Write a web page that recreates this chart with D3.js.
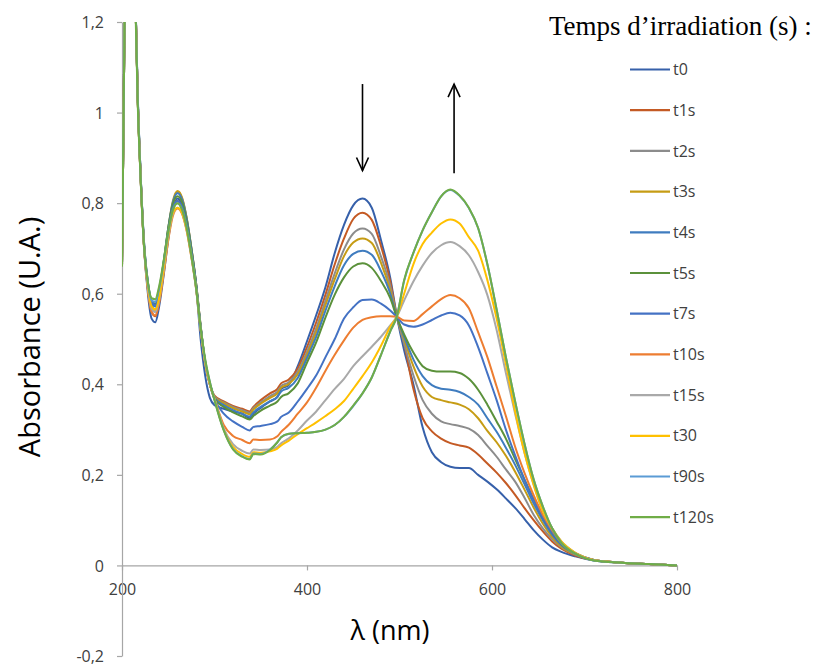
<!DOCTYPE html>
<html><head><meta charset="utf-8">
<script src="https://cdn.jsdelivr.net/npm/d3@7"></script>
<style>
html,body{margin:0;padding:0;background:#fff;}
svg{display:block;}
.ax text{font-family:"Open Sans","Noto Sans",sans-serif;font-size:16px;fill:#404040;}
.ax path,.ax line{stroke:#A6A6A6;stroke-width:1.2;}
</style></head><body>
<svg id="chart" width="820" height="666"></svg>
<script>
const wavelengths = [200,203,206,210,214,217,220,224,228,232,236,240,245,250,255,260,265,270,275,280,285,290,295,300,310,320,330,338,342,350,360,368,372,380,390,400,410,420,430,440,450,460,470,480,490,497,505,515,525,535,545,555,565,575,585,595,605,615,625,635,645,655,665,675,690,710,740,770,800];

const seriesNames = ["t0","t1s","t2s","t3s","t4s","t5s","t7s","t10s","t15s","t30","t90s","t120s"];
const seriesColors = ["#3660AA","#C45A24","#8C8C8C","#C69C14","#3F7CBF","#5B913B","#4472C4","#ED7D31","#A9A9A9","#FFC000","#5B9BD5","#70AD47"];

const t0 = [0.66,1.25,1.6,1.7,1.3,1.04,0.87,0.70,0.60,0.545,0.537,0.57,0.64,0.72,0.785,0.81,0.795,0.755,0.695,0.62,0.50,0.418,0.37,0.354,
 0.346,0.34,0.335,0.325,0.335,0.348,0.362,0.372,0.39,0.398,
 0.44,0.495,0.553,0.615,0.69,0.752,0.795,0.81,0.79,0.718,0.635,0.552,
 0.475,0.40,0.305,0.25,0.228,0.218,0.215,0.215,0.2,0.185,0.168,0.148,0.127,0.103,0.078,0.057,0.04,0.03,0.02,0.011,0.006,0.003,0.0];
const t1s = [0.66,1.25,1.6,1.7,1.3,1.03,0.865,0.70,0.61,0.56,0.55,0.58,0.648,0.725,0.785,0.805,0.79,0.752,0.692,0.62,0.525,0.445,0.40,0.375,
 0.362,0.352,0.346,0.34,0.35,0.365,0.38,0.39,0.402,0.41,
 0.435,0.482,0.537,0.598,0.665,0.722,0.765,0.779,0.763,0.705,0.627,0.551,
 0.49,0.39,0.325,0.296,0.28,0.27,0.265,0.26,0.245,0.225,0.205,0.182,0.156,0.127,0.1,0.075,0.053,0.037,0.022,0.012,0.006,0.003,0.0];
const t2s = [0.66,1.25,1.6,1.7,1.3,1.03,0.865,0.70,0.615,0.57,0.56,0.59,0.66,0.74,0.80,0.825,0.81,0.765,0.70,0.625,0.53,0.448,0.40,0.373,
 0.36,0.35,0.343,0.337,0.347,0.36,0.374,0.384,0.396,0.404,
 0.428,0.472,0.524,0.585,0.645,0.698,0.733,0.744,0.732,0.682,0.617,0.55,
 0.49,0.42,0.365,0.335,0.318,0.312,0.308,0.302,0.288,0.264,0.24,0.212,0.185,0.15,0.112,0.082,0.058,0.04,0.024,0.012,0.006,0.003,0.0];
const t3s = [0.66,1.25,1.6,1.7,1.3,1.03,0.865,0.70,0.618,0.575,0.565,0.595,0.665,0.745,0.805,0.827,0.812,0.767,0.702,0.625,0.53,0.448,0.40,0.372,
 0.358,0.347,0.34,0.334,0.344,0.357,0.37,0.38,0.392,0.40,
 0.422,0.465,0.515,0.575,0.632,0.683,0.713,0.722,0.712,0.668,0.607,0.55,
 0.50,0.44,0.395,0.372,0.365,0.36,0.355,0.345,0.325,0.297,0.272,0.242,0.207,0.168,0.128,0.092,0.063,0.042,0.025,0.012,0.006,0.003,0.0];
const t4s = [0.66,1.25,1.6,1.7,1.3,1.035,0.868,0.705,0.622,0.58,0.572,0.60,0.668,0.745,0.802,0.822,0.808,0.765,0.70,0.624,0.528,0.447,0.40,0.37,
 0.354,0.343,0.335,0.329,0.338,0.35,0.363,0.372,0.384,0.392,
 0.414,0.458,0.505,0.563,0.617,0.663,0.688,0.695,0.686,0.65,0.60,0.549,
 0.505,0.455,0.418,0.398,0.39,0.388,0.383,0.372,0.355,0.325,0.295,0.26,0.222,0.18,0.137,0.10,0.068,0.045,0.026,0.012,0.006,0.003,0.0];
const t5s = [0.66,1.25,1.6,1.7,1.3,1.035,0.87,0.708,0.625,0.585,0.578,0.605,0.67,0.745,0.798,0.815,0.802,0.76,0.698,0.622,0.527,0.446,0.40,0.368,
 0.35,0.338,0.329,0.322,0.33,0.342,0.353,0.362,0.372,0.38,
 0.402,0.448,0.493,0.548,0.598,0.636,0.66,0.667,0.657,0.628,0.59,0.549,
 0.51,0.47,0.44,0.43,0.428,0.428,0.425,0.412,0.388,0.355,0.318,0.28,0.235,0.19,0.147,0.105,0.073,0.048,0.027,0.012,0.006,0.003,0.0];
const t7s = [0.66,1.25,1.6,1.7,1.3,1.035,0.87,0.708,0.625,0.583,0.575,0.60,0.665,0.738,0.79,0.805,0.792,0.752,0.692,0.62,0.527,0.448,0.40,0.368,
 0.335,0.318,0.306,0.298,0.306,0.308,0.312,0.318,0.328,0.337,
 0.362,0.39,0.42,0.46,0.50,0.545,0.57,0.586,0.587,0.578,0.563,0.549,
 0.532,0.527,0.532,0.542,0.552,0.558,0.552,0.53,0.482,0.424,0.365,0.30,0.243,0.19,0.145,0.105,0.073,0.048,0.027,0.012,0.006,0.003,0.0];
const t10s = [0.66,1.25,1.6,1.7,1.3,1.03,0.862,0.695,0.608,0.56,0.552,0.578,0.643,0.718,0.772,0.788,0.776,0.738,0.68,0.612,0.52,0.445,0.40,0.368,
 0.31,0.286,0.277,0.27,0.278,0.277,0.278,0.285,0.295,0.31,
 0.335,0.36,0.393,0.43,0.465,0.497,0.525,0.542,0.548,0.55,0.55,0.549,
 0.541,0.54,0.555,0.572,0.588,0.597,0.59,0.568,0.515,0.46,0.395,0.33,0.262,0.205,0.155,0.112,0.078,0.05,0.028,0.012,0.006,0.003,0.0];
const t15s = [0.66,1.25,1.6,1.7,1.3,1.03,0.862,0.697,0.612,0.567,0.56,0.585,0.65,0.724,0.776,0.79,0.778,0.74,0.682,0.613,0.522,0.447,0.40,0.368,
 0.302,0.268,0.253,0.247,0.256,0.255,0.256,0.262,0.27,0.28,
 0.298,0.32,0.34,0.365,0.39,0.412,0.44,0.462,0.483,0.505,0.53,0.549,
 0.585,0.627,0.662,0.69,0.707,0.714,0.705,0.685,0.648,0.597,0.52,0.425,0.335,0.25,0.178,0.12,0.082,0.053,0.028,0.012,0.006,0.003,0.0];
const t30 = [0.66,1.25,1.6,1.7,1.3,1.03,0.863,0.70,0.615,0.572,0.565,0.59,0.655,0.728,0.778,0.79,0.778,0.74,0.683,0.614,0.523,0.448,0.40,0.368,
 0.30,0.262,0.246,0.24,0.25,0.249,0.252,0.258,0.265,0.275,
 0.29,0.303,0.316,0.33,0.345,0.363,0.39,0.418,0.448,0.485,0.527,0.549,
 0.60,0.665,0.71,0.735,0.755,0.764,0.755,0.725,0.695,0.63,0.545,0.445,0.34,0.25,0.178,0.12,0.082,0.053,0.028,0.012,0.006,0.003,0.0];
const t90s = [0.66,1.25,1.6,1.7,1.3,1.03,0.862,0.70,0.622,0.585,0.582,0.61,0.668,0.735,0.785,0.80,0.786,0.746,0.686,0.615,0.525,0.452,0.405,0.366,
 0.299,0.257,0.241,0.235,0.247,0.246,0.256,0.272,0.283,0.29,
 0.292,0.293,0.295,0.30,0.31,0.328,0.352,0.38,0.415,0.465,0.517,0.549,
 0.628,0.69,0.74,0.78,0.815,0.829,0.816,0.789,0.745,0.665,0.565,0.46,0.362,0.27,0.19,0.13,0.082,0.05,0.026,0.011,0.006,0.003,0.0];
const t120s = [0.66,1.25,1.6,1.7,1.28,1.02,0.86,0.70,0.625,0.59,0.588,0.615,0.672,0.738,0.785,0.80,0.785,0.745,0.685,0.615,0.525,0.455,0.405,0.365,
 0.298,0.256,0.24,0.234,0.246,0.245,0.255,0.272,0.283,0.291,
 0.292,0.293,0.295,0.30,0.31,0.328,0.353,0.38,0.415,0.465,0.517,0.549,
 0.63,0.69,0.74,0.78,0.815,0.83,0.817,0.79,0.745,0.665,0.565,0.46,0.362,0.27,0.19,0.13,0.082,0.05,0.026,0.011,0.006,0.003,0.0];

const seriesValues = [t0,t1s,t2s,t3s,t4s,t5s,t7s,t10s,t15s,t30,t90s,t120s];

const xTicks = [200,400,600,800];
const yTicks = [-0.2,0,0.2,0.4,0.6,0.8,1,1.2];
const xLabel = "λ (nm)";
const yLabel = "Absorbance (U.A.)";
const legendTitle = "Temps d’irradiation (s) :";
// arrows: [wavelength, from value, to value]
const arrowDown = [460, 1.063, 0.872];
const arrowUp = [559, 0.866, 1.063];

const svg = d3.select("#chart");
const x = d3.scaleLinear().domain([200,800]).range([122,677]);
const y = d3.scaleLinear().domain([-0.2,1.2]).range([656,22]);
const fmt = v => (Math.round(v*10)/10).toString().replace(".", ",");

svg.append("defs").append("clipPath").attr("id","clip")
  .append("rect").attr("x",x(200)).attr("y",y(1.2)).attr("width",x(800)-x(200)+2).attr("height",y(-0.2)-y(1.2));

// x axis at y=0
const gx = svg.append("g").attr("class","ax").attr("transform",`translate(0,${y(0)})`)
  .call(d3.axisBottom(x).tickValues(xTicks).tickSize(5).tickSizeOuter(0).tickPadding(13).tickFormat(d=>d));
// y axis
const gy = svg.append("g").attr("class","ax").attr("transform",`translate(${x(200)},0)`)
  .call(d3.axisLeft(y).tickValues(yTicks).tickSize(5).tickSizeOuter(0).tickPadding(13).tickFormat(fmt));
gy.selectAll("text").attr("dy","0.35em");

const line = d3.line().x((d,i)=>x(wavelengths[i])).y(d=>y(d)).curve(d3.curveMonotoneX);
const gl = svg.append("g").attr("clip-path","url(#clip)");
seriesValues.forEach((vals,k)=>{
  gl.append("path").attr("d",line(vals)).attr("fill","none")
    .attr("stroke",seriesColors[k]).attr("stroke-width",2).attr("stroke-linejoin","round");
});

// arrows
function arrow(a){
  const xx = x(a[0]), y1 = y(a[1]), y2 = y(a[2]);
  const dir = y2 > y1 ? 1 : -1;
  const g = svg.append("g").attr("stroke","#000").attr("stroke-width",1.6).attr("fill","none");
  g.append("line").attr("x1",xx).attr("x2",xx).attr("y1",y1).attr("y2",y2);
  g.append("path").attr("d",`M${xx-6},${y2-dir*13} L${xx},${y2} L${xx+6},${y2-dir*13}`);
}
arrow(arrowDown); arrow(arrowUp);

// labels
svg.append("text").attr("x",390).attr("y",640).attr("text-anchor","middle")
  .attr("font-family","'Open Sans','Noto Sans',sans-serif").attr("font-size",27).attr("fill","#000").text(xLabel);
svg.append("text").attr("transform","translate(40,337) rotate(-90)").attr("text-anchor","middle")
  .attr("font-family","'Open Sans','Noto Sans',sans-serif").attr("font-size",29).attr("fill","#000").text(yLabel);

// legend
svg.append("text").attr("x",549).attr("y",35).attr("font-family","'Liberation Serif','Times New Roman',serif")
  .attr("font-size",27).attr("fill","#000").text(legendTitle);
const lg = svg.append("g");
seriesNames.forEach((n,k)=>{
  const yy = 69.5 + k*40.7;
  lg.append("line").attr("x1",630).attr("x2",670).attr("y1",yy).attr("y2",yy)
    .attr("stroke",seriesColors[k]).attr("stroke-width",2.2);
  lg.append("text").attr("x",673).attr("y",yy).attr("dy","0.35em")
    .attr("font-family","'Open Sans','Noto Sans',sans-serif").attr("font-size",16).attr("fill","#404040").text(n);
});
</script></body></html>
